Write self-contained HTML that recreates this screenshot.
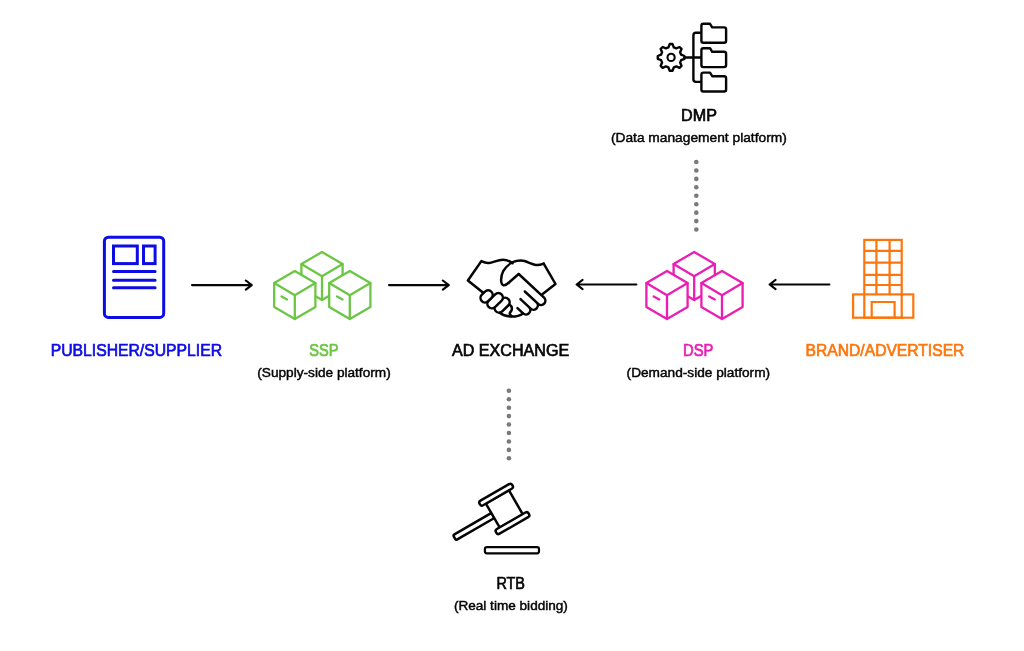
<!DOCTYPE html>
<html><head><meta charset="utf-8"><style>
html,body{margin:0;padding:0;background:#fff;width:1024px;height:651px;overflow:hidden}
svg{position:absolute;left:0;top:0;display:block;will-change:transform}
text{font-family:"Liberation Sans",sans-serif}
</style></head><body>
<svg width="1024" height="651" viewBox="0 0 1024 651">
<g stroke="#050505" stroke-width="2.4" fill="none" stroke-linejoin="round" stroke-linecap="round">
<path d="M668.41,47.35 L669.70,44.07 L672.50,44.07 L673.79,47.35 L676.30,48.39 L679.53,46.99 L681.51,48.97 L680.11,52.20 L681.15,54.71 L684.43,56.00 L684.43,58.80 L681.15,60.09 L680.11,62.60 L681.51,65.83 L679.53,67.81 L676.30,66.41 L673.79,67.45 L672.50,70.73 L669.70,70.73 L668.41,67.45 L665.90,66.41 L662.67,67.81 L660.69,65.83 L662.09,62.60 L661.05,60.09 L657.77,58.80 L657.77,56.00 L661.05,54.71 L662.09,52.20 L660.69,48.97 L662.67,46.99 L665.90,48.39Z" fill="#fff"/>
<circle cx="671.1" cy="57.4" r="3.6" stroke-width="2.1"/>
<path d="M684.5,57.5 L701.4,57.5"/>
<path d="M701.4,32.8 L696,32.8 Q693.4,32.8 693.4,35.4 L693.4,79.3 Q693.4,81.9 696,81.9 L701.4,81.9"/>
<path d="M703.4,23.8 L710.0,23.8 L712.1999999999999,27.400000000000002 L724.1,27.400000000000002 Q726.1,27.400000000000002 726.1,29.400000000000002 L726.1,40.7 Q726.1,42.7 724.1,42.7 L703.4,42.7 Q701.4,42.7 701.4,40.7 L701.4,25.8 Q701.4,23.8 703.4,23.8Z" fill="#fff"/>
<path d="M703.4,48.2 L710.0,48.2 L712.1999999999999,51.800000000000004 L724.1,51.800000000000004 Q726.1,51.800000000000004 726.1,53.800000000000004 L726.1,65.1 Q726.1,67.1 724.1,67.1 L703.4,67.1 Q701.4,67.1 701.4,65.1 L701.4,50.2 Q701.4,48.2 703.4,48.2Z" fill="#fff"/>
<path d="M703.4,72.6 L710.0,72.6 L712.1999999999999,76.19999999999999 L724.1,76.19999999999999 Q726.1,76.19999999999999 726.1,78.19999999999999 L726.1,89.5 Q726.1,91.5 724.1,91.5 L703.4,91.5 Q701.4,91.5 701.4,89.5 L701.4,74.6 Q701.4,72.6 703.4,72.6Z" fill="#fff"/>
</g>
<g fill="#7a7a7a"><circle cx="696.3" cy="162.00" r="2.3"/><circle cx="696.3" cy="170.44" r="2.3"/><circle cx="696.3" cy="178.88" r="2.3"/><circle cx="696.3" cy="187.32" r="2.3"/><circle cx="696.3" cy="195.76" r="2.3"/><circle cx="696.3" cy="204.20" r="2.3"/><circle cx="696.3" cy="212.64" r="2.3"/><circle cx="696.3" cy="221.08" r="2.3"/><circle cx="696.3" cy="229.52" r="2.3"/><circle cx="508.9" cy="390.80" r="2.3"/><circle cx="508.9" cy="399.24" r="2.3"/><circle cx="508.9" cy="407.68" r="2.3"/><circle cx="508.9" cy="416.12" r="2.3"/><circle cx="508.9" cy="424.56" r="2.3"/><circle cx="508.9" cy="433.00" r="2.3"/><circle cx="508.9" cy="441.44" r="2.3"/><circle cx="508.9" cy="449.88" r="2.3"/><circle cx="508.9" cy="458.32" r="2.3"/></g>
<g stroke="#0c0ce4" stroke-width="3" fill="none" stroke-linecap="round" stroke-linejoin="round">
<rect x="104.4" y="237.2" width="59.3" height="80.2" rx="4"/>
<rect x="113.5" y="246" width="23.8" height="17.6" stroke-linejoin="miter"/>
<rect x="143.5" y="246" width="11.6" height="17.6" stroke-linejoin="miter"/>
<path d="M113.5,271.4 L155.1,271.4 M113.5,280.3 L155.1,280.3 M113.5,287.8 L155.1,287.8"/>
</g>
<g stroke="#050505" stroke-width="2.1" fill="none" stroke-linecap="round" stroke-linejoin="round">
<path d="M192.0,285.1 L251.8,285.1 M245.8,280.5 L251.8,285.1 L245.8,289.7"/>
<path d="M389.0,285.1 L448.8,285.1 M442.8,280.5 L448.8,285.1 L442.8,289.7"/>
<path d="M636.4,284.5 L576.6,284.5 M582.6,279.9 L576.6,284.5 L582.6,289.1"/>
<path d="M829.4,284.5 L769.6,284.5 M775.6,279.9 L769.6,284.5 L775.6,289.1"/>
</g>
<g stroke="#6cc644" stroke-width="2.3" stroke-linejoin="round" stroke-linecap="round" transform="translate(0,0)"><path d="M322.00,252.00 L342.60,264.10 L342.60,287.90 L322.00,300.00 L301.40,287.90 L301.40,264.10Z" fill="#fff"/><path d="M301.40,264.10 L322.00,276.20 L342.60,264.10 M322.00,276.20 L322.00,300.00" fill="none"/><path d="M294.80,271.00 L315.40,283.10 L315.40,306.90 L294.80,319.00 L274.20,306.90 L274.20,283.10Z" fill="#fff"/><path d="M274.20,283.10 L294.80,295.20 L315.40,283.10 M294.80,295.20 L294.80,319.00" fill="none"/><path d="M281.5,296.4 L287.1,299.4" fill="none"/><path d="M349.80,271.00 L370.40,283.10 L370.40,306.90 L349.80,319.00 L329.20,306.90 L329.20,283.10Z" fill="#fff"/><path d="M329.20,283.10 L349.80,295.20 L370.40,283.10 M349.80,295.20 L349.80,319.00" fill="none"/><path d="M337.0,296.4 L342.6,299.4" fill="none"/></g>
<g stroke="#e91eb4" stroke-width="2.3" stroke-linejoin="round" stroke-linecap="round" transform="translate(372.2,0)"><path d="M322.00,252.00 L342.60,264.10 L342.60,287.90 L322.00,300.00 L301.40,287.90 L301.40,264.10Z" fill="#fff"/><path d="M301.40,264.10 L322.00,276.20 L342.60,264.10 M322.00,276.20 L322.00,300.00" fill="none"/><path d="M294.80,271.00 L315.40,283.10 L315.40,306.90 L294.80,319.00 L274.20,306.90 L274.20,283.10Z" fill="#fff"/><path d="M274.20,283.10 L294.80,295.20 L315.40,283.10 M294.80,295.20 L294.80,319.00" fill="none"/><path d="M281.5,296.4 L287.1,299.4" fill="none"/><path d="M349.80,271.00 L370.40,283.10 L370.40,306.90 L349.80,319.00 L329.20,306.90 L329.20,283.10Z" fill="#fff"/><path d="M329.20,283.10 L349.80,295.20 L370.40,283.10 M349.80,295.20 L349.80,319.00" fill="none"/><path d="M337.0,296.4 L342.6,299.4" fill="none"/></g>
<g stroke="#fd760d" stroke-width="2.2" fill="none" stroke-linecap="butt" stroke-linejoin="miter">
<rect x="864.3" y="239.9" width="37.4" height="77.8"/>
<path d="M876.4,239.9 L876.4,294.4 M889.6,239.9 L889.6,294.4"/>
<path d="M864.3,250.9 L901.7,250.9 M864.3,262.7 L901.7,262.7 M864.3,274.8 L901.7,274.8 M864.3,285.0 L901.7,285.0"/>
<rect x="853.1" y="294.4" width="60.2" height="23.3"/>
<path d="M871.7,317.7 L871.7,302 L894.6,302 L894.6,317.7"/>
</g>
<g stroke="#050505" stroke-width="2.5" fill="none" stroke-linecap="round" stroke-linejoin="round"><path d="M483.5,293 L467.9,280.5 L481.35,261.14 C484,262.5 486.5,263.3 489,263 C493,262.5 498,259.8 503,259.8 C507,259.8 510,261.2 512.5,263.2"/><rect x="-8.70" y="-4.50" width="17.40" height="9.00" rx="4.50" transform="translate(502.10,305.20) rotate(-44)" fill="#fff"/><rect x="-9.00" y="-4.50" width="18.00" height="9.00" rx="4.50" transform="translate(495.10,300.70) rotate(-44)" fill="#fff"/><rect x="-6.70" y="-4.50" width="13.40" height="9.00" rx="4.50" transform="translate(486.60,296.40) rotate(-44)" fill="#fff"/><path d="M543.7,263.56 L555.5,284 L542,294.5"/><path d="M518.70,274.00 L544.08,297.67 M544.08,297.67 A4.30,4.30 0 0 1 538.21,303.95 M536.53,302.39 A4.30,4.30 0 0 1 530.67,308.68 M528.98,307.11 A4.30,4.30 0 0 1 523.12,313.40 M524.83,291.47 L538.21,303.95 M520.50,299.20 L530.67,308.68 M517.49,308.15 L523.12,313.40 "/><path d="M543.7,263.56 C541,264.6 538,265.2 535.7,264.9 C531,264.3 526,260.6 521.1,260.6 C513,260.6 506.5,265.5 503.3,271 C500.6,276 500.2,284 503.3,285.2 C505.5,285.9 507.5,284 509.5,282 L518.7,274"/><path d="M523.1,313.4 C520,315.6 516,316.6 512,316.6 C507,316.6 503,315.5 499.5,312.8"/><path d="M509.5,304.5 C512.5,306.5 512.5,310 510.5,312 C509,313.5 510,315 511.5,316"/></g>
<g stroke="#050505" stroke-width="2.5" fill="#fff" stroke-linejoin="round" transform="translate(504.3,508.9) rotate(-30)">
<rect x="-57.5" y="-2.9" width="44.5" height="5.8" rx="1.6"/>
<rect x="-13.3" y="-14" width="26.6" height="28"/>
<rect x="-18.8" y="-19.1" width="37.6" height="5.4" rx="2.3"/>
<rect x="-18.8" y="13.7" width="37.6" height="5.4" rx="2.3"/>
</g>
<rect x="484.9" y="547.1" width="54.1" height="6.2" rx="2" stroke="#050505" stroke-width="2.2" fill="none"/>
<g font-family="Liberation Sans"><text x="50.7" y="356.0" font-size="15.6" fill="#0c0ce4" stroke="#0c0ce4" stroke-width="0.65" textLength="171.3" lengthAdjust="spacingAndGlyphs">PUBLISHER/SUPPLIER</text><text x="309.3" y="355.9" font-size="15.6" fill="#6cc644" stroke="#6cc644" stroke-width="0.65" textLength="29.3" lengthAdjust="spacingAndGlyphs">SSP</text><text x="452.0" y="355.9" font-size="15.6" fill="#050505" stroke="#050505" stroke-width="0.65" textLength="117.2" lengthAdjust="spacingAndGlyphs">AD EXCHANGE</text><text x="683.0" y="355.9" font-size="15.6" fill="#e91eb4" stroke="#e91eb4" stroke-width="0.65" textLength="30.3" lengthAdjust="spacingAndGlyphs">DSP</text><text x="805.6" y="355.7" font-size="15.6" fill="#fd760d" stroke="#fd760d" stroke-width="0.65" textLength="158.8" lengthAdjust="spacingAndGlyphs">BRAND/ADVERTISER</text><text x="681.1" y="120.7" font-size="15.6" fill="#050505" stroke="#050505" stroke-width="0.65" textLength="35.8" lengthAdjust="spacingAndGlyphs">DMP</text><text x="496.4" y="588.6" font-size="15.6" fill="#050505" stroke="#050505" stroke-width="0.65" textLength="28.6" lengthAdjust="spacingAndGlyphs">RTB</text><text x="610.9" y="141.8" font-size="12.9" fill="#050505" stroke="#050505" stroke-width="0.45" textLength="175.9" lengthAdjust="spacingAndGlyphs">(Data management platform)</text><text x="257.3" y="376.8" font-size="12.9" fill="#050505" stroke="#050505" stroke-width="0.45" textLength="133.4" lengthAdjust="spacingAndGlyphs">(Supply-side platform)</text><text x="626.6" y="376.8" font-size="12.9" fill="#050505" stroke="#050505" stroke-width="0.45" textLength="143.5" lengthAdjust="spacingAndGlyphs">(Demand-side platform)</text><text x="453.9" y="609.7" font-size="12.9" fill="#050505" stroke="#050505" stroke-width="0.45" textLength="114.0" lengthAdjust="spacingAndGlyphs">(Real time bidding)</text></g>
</svg>
</body></html>
